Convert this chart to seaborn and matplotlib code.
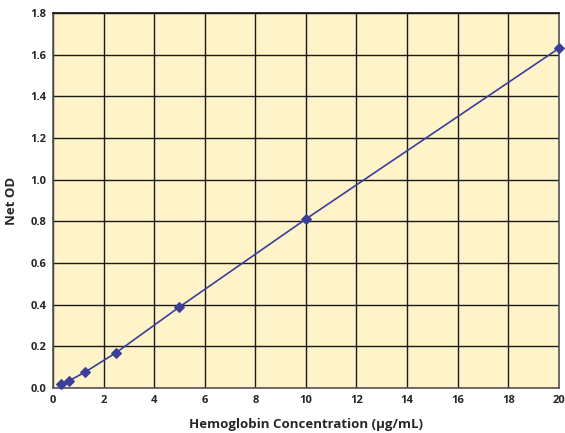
import matplotlib
matplotlib.use("Agg")
import matplotlib.pyplot as plt
import seaborn as sns
import pandas as pd

concentration = [0.3125, 0.625, 1.25, 2.5, 5, 10, 20]
net_od = [0.018, 0.034, 0.075, 0.170, 0.389, 0.811, 1.630]
x_ticks = [0, 2, 4, 6, 8, 10, 12, 14, 16, 18, 20]
y_ticks = [0.0, 0.2, 0.4, 0.6, 0.8, 1.0, 1.2, 1.4, 1.6, 1.8]

sns.set_style("white")
plt.rcParams['font.family'] = ['Open Sans', 'DejaVu Sans']

df = pd.DataFrame({"conc": concentration, "od": net_od})

fig = plt.figure(figsize=(5.65, 4.33), dpi=100)
ax = fig.add_axes([0.0938, 0.1039, 0.8952, 0.8661])
ax.set_facecolor("#FFF3C9")

sns.lineplot(data=df, x="conc", y="od", ax=ax, color="#3A3F9A", linewidth=1.2,
             marker="D", markersize=5, markeredgecolor="#3A3F9A", zorder=5, clip_on=False)

ax.set_xlim(0, 20)
ax.set_ylim(0, 1.8)
ax.set_xticks(x_ticks)
ax.set_yticks(y_ticks)
ax.set_xticklabels([str(t) for t in x_ticks])
ax.set_yticklabels([f"{t:.1f}" for t in y_ticks])
ax.grid(True, color="#1a1a1a", linewidth=1.0)
ax.set_axisbelow(True)
for s in ax.spines.values():
    s.set_visible(True)
    s.set_color("#555555")
    s.set_linewidth(1.2)
ax.spines['top'].set_color("#111111")
ax.tick_params(axis='both', length=0, labelsize=8, pad=5)
for lbl in ax.get_xticklabels() + ax.get_yticklabels():
    lbl.set_fontweight("bold")
ax.set_xlabel("Hemoglobin Concentration (µg/mL)", fontsize=9.5, fontweight="bold", labelpad=9)
ax.set_ylabel("Net OD", fontsize=9.5, fontweight="bold", labelpad=9)

fig.savefig("out.png", dpi=100)
